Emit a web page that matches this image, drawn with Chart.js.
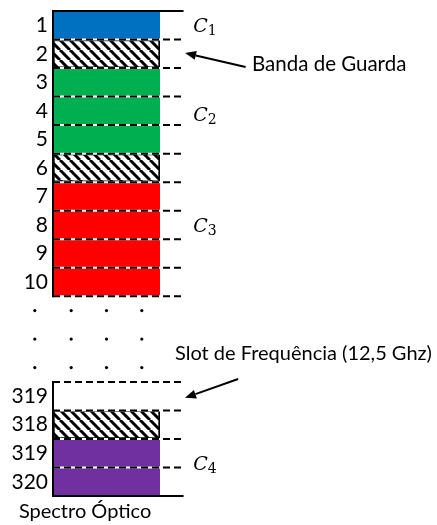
<!DOCTYPE html>
<html>
<head>
<meta charset="utf-8">
<script src="https://cdn.jsdelivr.net/npm/chart.js"></script>
<style>
  html, body { margin: 0; padding: 0; background: #fff; }
  canvas { display: block; }
</style>
</head>
<body>
<canvas id="spectro" width="437" height="525"></canvas>
<script>
// slots do espectro (posicao inicial de cada slot no eixo vertical)
const slotLabels = ['1', '2', '3', '4', '5', '6', '7', '8', '9', '10', '319', '318', '319', '320'];
const slotStart = [0, 1, 2, 3, 4, 5, 6, 7, 8, 9, 13, 14, 15, 16];
const channelNames = ['C', 'C', 'C', 'C'];
const channelSubs = ['1', '2', '3', '4'];
const channelRanges = [[0, 1], [2, 5], [6, 10], [15, 17]];
const channelColors = ['#0070C0', '#00B050', '#FF0000', '#7030A0'];
const channelLabelY = [0.5, 3.6, 7.5, 15.85];
const guardRanges = [[1, 2], [5, 6], [14, 15]];
const dashedAt = [1, 2, 3, 4, 5, 6, 7, 8, 9, 10, 13, 14, 15, 16];
const solidAt = [0, 17];
const axisParts = [[0, 10], [13, 17]];
const dotRows = [10.5, 11.5, 12.5];
const dotCols = [-0.17, 0.17, 0.5, 0.83];

const canvas = document.getElementById('spectro');

function makeHatch() {
    const c = document.createElement('canvas');
    c.width = 10;
    c.height = 10;
    const g = c.getContext('2d');
    g.fillStyle = '#fff';
    g.fillRect(0, 0, 10, 10);
    g.strokeStyle = '#000';
    g.lineWidth = 3;
    g.beginPath();
    for (let k = -10; k <= 10; k += 10) {
        g.moveTo(k, 0);
        g.lineTo(k + 10, 10);
    }
    g.stroke();
    return canvas.getContext('2d').createPattern(c, 'repeat');
}
const hatchFill = makeHatch();

let datasets = [];
channelRanges.forEach(function(r, i) {
    datasets.push({
        label: channelNames[i] + channelSubs[i],
        data: [r],
        backgroundColor: channelColors[i],
        borderWidth: 0,
        grouped: false,
        barPercentage: 1,
        categoryPercentage: 1
    });
});
guardRanges.forEach(function(r) {
    datasets.push({
        label: 'Banda de Guarda',
        data: [r],
        backgroundColor: hatchFill,
        borderColor: '#000',
        borderWidth: 2,
        borderSkipped: false,
        grouped: false,
        barPercentage: 1,
        categoryPercentage: 1
    });
});
datasets.push({
    type: 'line',
    label: 'pontos',
    xAxisID: 'xd',
    data: dotRows.flatMap(yv => dotCols.map(xv => ({x: xv, y: yv}))),
    showLine: false,
    pointRadius: 1.6,
    // raio de hover grande so para a primeira coluna (fora da area) ser desenhada
    pointHoverRadius: 40,
    pointBackgroundColor: '#000',
    pointBorderWidth: 0,
    clip: false
});

function seta(ctx, x1, y1, x2, y2) {
    const a = Math.atan2(y2 - y1, x2 - x1);
    const len = 11, half = 4.5;
    const bx = x2 - len * Math.cos(a), by = y2 - len * Math.sin(a);
    ctx.beginPath();
    ctx.moveTo(x1, y1);
    ctx.lineTo(bx, by);
    ctx.stroke();
    ctx.beginPath();
    ctx.moveTo(x2, y2);
    ctx.lineTo(bx + half * Math.sin(a), by - half * Math.cos(a));
    ctx.lineTo(bx - half * Math.sin(a), by + half * Math.cos(a));
    ctx.closePath();
    ctx.fill();
}

// linhas, rotulos e setas por cima das barras
const desenho = {
    id: 'desenho',
    afterDatasetsDraw(chart) {
        const ctx = chart.ctx;
        const y = chart.scales.y;
        const xd = chart.scales.xd;
        const x0 = xd.getPixelForValue(0);
        const xb = xd.getPixelForValue(1);
        const x1 = xd.getPixelForValue(1.22);
        ctx.save();
        ctx.lineWidth = 2;

        dashedAt.forEach(function(v) {
            const py = y.getPixelForValue(v);
            ctx.setLineDash([]);
            ctx.strokeStyle = '#fff';
            ctx.beginPath(); ctx.moveTo(x0, py); ctx.lineTo(xb, py); ctx.stroke();
            ctx.setLineDash([7, 4]);
            ctx.strokeStyle = '#000';
            ctx.beginPath(); ctx.moveTo(x0, py); ctx.lineTo(x1, py); ctx.stroke();
        });
        ctx.setLineDash([]);
        ctx.strokeStyle = '#000';
        solidAt.forEach(function(v) {
            const py = y.getPixelForValue(v);
            ctx.beginPath(); ctx.moveTo(x0 - 1, py); ctx.lineTo(x1, py); ctx.stroke();
        });
        axisParts.forEach(function(p) {
            ctx.beginPath();
            ctx.moveTo(x0, y.getPixelForValue(p[0]) - 1);
            ctx.lineTo(x0, y.getPixelForValue(p[1]) + 1);
            ctx.stroke();
        });

        // C1..C4
        ctx.fillStyle = '#000';
        ctx.textBaseline = 'alphabetic';
        ctx.textAlign = 'left';
        channelLabelY.forEach(function(v, i) {
            const px = xd.getPixelForValue(1.31);
            const py = y.getPixelForValue(v) + 7;
            ctx.font = 'italic 19px "DejaVu Serif"';
            ctx.fillText(channelNames[i], px, py);
            const w = ctx.measureText(channelNames[i]).width;
            ctx.font = '14px "DejaVu Serif"';
            ctx.fillText(channelSubs[i], px + w, py + 3);
        });

        ctx.font = '20.5px Lato';
        ctx.textBaseline = 'middle';
        ctx.fillText('Banda de Guarda', xd.getPixelForValue(1.86), y.getPixelForValue(1.86));
        ctx.font = '20px Lato';
        ctx.fillText('Slot de Frequência (12,5 Ghz)', xd.getPixelForValue(1.14), y.getPixelForValue(12.02));
        ctx.textAlign = 'center';
        ctx.fillText('Spectro Óptico', xd.getPixelForValue(0.3), y.getPixelForValue(17.56));

        ctx.lineWidth = 2;
        seta(ctx, xd.getPixelForValue(1.80), y.getPixelForValue(1.96), xd.getPixelForValue(1.234), y.getPixelForValue(1.47));
        seta(ctx, xd.getPixelForValue(1.73), y.getPixelForValue(12.9), xd.getPixelForValue(1.234), y.getPixelForValue(13.56));
        ctx.restore();
    }
};

let chart = new Chart(canvas, {
    type: 'bar',
    data: {
        labels: ['Spectro Óptico'],
        datasets: datasets
    },
    options: {
        responsive: false,
        animation: false,
        events: [],
        layout: {
            autoPadding: false,
            padding: {top: 11, right: 277, bottom: 29, left: 0}
        },
        plugins: {
            legend: {display: false},
            tooltip: {enabled: false}
        },
        scales: {
            x: {display: false},
            xd: {type: 'linear', display: false, offset: false, min: 0, max: 1},
            y: {
                type: 'linear',
                reverse: true,
                min: 0,
                max: 17,
                border: {display: false},
                grid: {display: false, drawTicks: false},
                afterBuildTicks: function(s) {
                    s.ticks = slotStart.map(v => ({value: v + 0.5}));
                },
                afterFit: function(s) {
                    s.width = 53;
                    s.paddingTop = 0;
                    s.paddingBottom = 0;
                },
                ticks: {
                    color: '#000',
                    padding: 5,
                    autoSkip: false,
                    font: {family: 'Lato', size: 21},
                    callback: function(v, i) { return slotLabels[i]; }
                }
            }
        }
    },
    plugins: [desenho]
});
</script>
</body>
</html>
